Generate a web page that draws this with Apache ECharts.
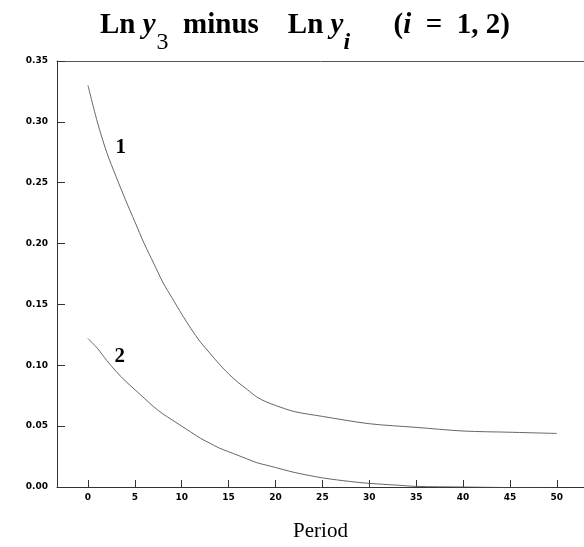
<!DOCTYPE html>
<html><head><meta charset="utf-8">
<script src="https://cdn.jsdelivr.net/npm/echarts@6/dist/echarts.min.js"></script>
<style>html,body{margin:0;padding:0;background:#fff}#c{width:584px;height:547px}</style>
</head><body><div id="c"></div>
<script>
const periods1 = [0,1,2,3,4,5,6,7,8,9,10,11,12,13,14,15,16,17,18,19,20,22,25,30,35,40,45,50];
const series1 = [0.330,0.300,0.275,0.255,0.236,0.218,0.200,0.184,0.168,0.155,0.142,0.130,0.119,0.110,0.101,0.093,0.086,0.080,0.074,0.070,0.067,0.062,0.058,0.052,0.049,0.046,0.045,0.044];
const periods2 = [0,1,2,3,4,5,6,7,8,9,10,11,12,13,14,15,16,17,18,19,20,22,25,28,30,33,35,40,45,50];
const series2 = [0.122,0.114,0.104,0.095,0.087,0.080,0.073,0.066,0.060,0.055,0.050,0.045,0.040,0.036,0.032,0.029,0.026,0.023,0.020,0.018,0.016,0.012,0.0075,0.0045,0.003,0.0015,0.0005,0.000,-0.0005,-0.001];
const xTicks = [0,5,10,15,20,25,30,35,40,45,50];
const yTicks = [0,0.05,0.10,0.15,0.20,0.25,0.30,0.35];
const curveLabels = [{name:'1', x:3.5, y:0.279},{name:'2', x:3.4, y:0.107}];

const chart = echarts.init(document.getElementById('c'));
const tick = {fontFamily:'DejaVu Sans', fontWeight:'bold', fontSize:9, color:'#000'};
const serif = 'Liberation Serif';
chart.setOption({
  animation:false,
  title:{
    left:300, textAlign:'center', top:-8,
    text:'{b|Ln }{i|y}{s|3}{b|  minus    Ln }{i|y}{si|i}{b|      (}{i|i}{b|  =  1, 2)}',
    textStyle:{
      rich:{
        b:{fontFamily:serif, fontWeight:'bold', fontSize:29, color:'#000'},
        i:{fontFamily:serif, fontWeight:'bold', fontStyle:'italic', fontSize:29, color:'#000'},
        s:{fontFamily:serif, fontWeight:'normal', fontSize:24, color:'#000', padding:[34,0,0,1]},
        si:{fontFamily:serif, fontWeight:'bold', fontStyle:'italic', fontSize:24, color:'#000', padding:[34,0,0,0]}
      }
    }
  },
  grid:{left:57, right:0, top:61, bottom:60},
  xAxis:[{
    type:'value', min:-3.3, max:52.9,
    name:'Period', nameLocation:'middle', nameGap:34,
    nameTextStyle:{fontFamily:serif, fontSize:21, color:'#000'},
    axisLine:{show:true, onZero:false, lineStyle:{color:'#333', width:1}},
    axisTick:{show:true, inside:true, length:7, customValues:xTicks, lineStyle:{color:'#333'}},
    axisLabel:Object.assign({customValues:xTicks, margin:6, formatter:v=>String(v)}, tick),
    splitLine:{show:false}
  },{
    type:'value', position:'top', min:-3.3, max:52.9,
    axisLine:{show:true, onZero:false, lineStyle:{color:'#555', width:1}},
    axisTick:{show:false}, axisLabel:{show:false}, splitLine:{show:false}
  }],
  yAxis:{
    type:'value', min:0, max:0.35, interval:0.05,
    axisLine:{show:true, onZero:false, lineStyle:{color:'#333', width:1}},
    axisTick:{show:true, inside:true, length:8, lineStyle:{color:'#333'}},
    axisLabel:Object.assign({margin:9, formatter:v=>v.toFixed(2)}, tick),
    splitLine:{show:false}
  },
  series:[{
    type:'line', showSymbol:false, smooth:0.3,
    data:periods1.map((p,i)=>[p,series1[i]]),
    lineStyle:{color:'#555', width:0.9}
  },{
    type:'line', showSymbol:false, smooth:0.3,
    data:periods2.map((p,i)=>[p,series2[i]]),
    lineStyle:{color:'#555', width:0.9}
  },{
    type:'scatter', symbolSize:0, itemStyle:{color:'#000'}, silent:true,
    data:curveLabels.map(d=>({name:d.name, value:[d.x,d.y]})),
    label:{show:true, position:'inside', formatter:'{b}', fontFamily:serif, fontWeight:'bold', fontSize:21, color:'#000', opacity:1}
  }]
});
</script></body></html>
